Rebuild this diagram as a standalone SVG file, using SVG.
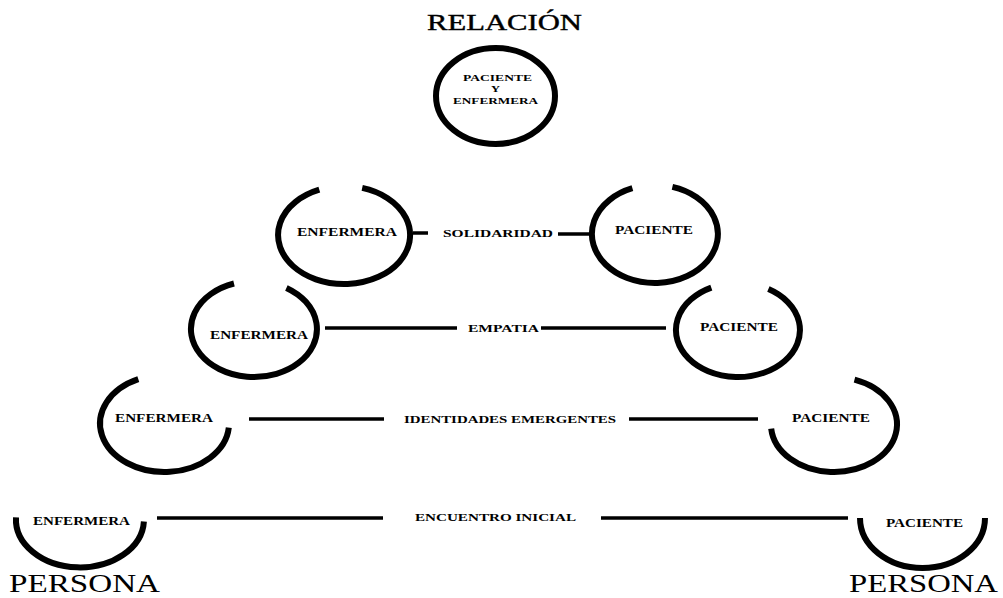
<svg xmlns="http://www.w3.org/2000/svg" width="1003" height="598" viewBox="0 0 1003 598">
<style>
.ring{fill:none;stroke:#000;stroke-width:6;stroke-linecap:butt}
.conn{stroke:#000;stroke-width:3.5;fill:none}
.lbl{font-family:"Liberation Serif","Times New Roman",serif;font-weight:bold;font-size:12px;fill:#000}
.mid{font-family:"Liberation Serif","Times New Roman",serif;font-weight:bold;font-size:11px;fill:#000}
.tiny{font-family:"Liberation Serif","Times New Roman",serif;font-weight:bold;font-size:9px;fill:#000}
.big{font-family:"Liberation Serif","Times New Roman",serif;font-size:23px;fill:#000;stroke:#000;stroke-width:0.4}
.per{font-family:"Liberation Serif","Times New Roman",serif;font-size:26px;fill:#000}
</style>
<rect width="1003" height="598" fill="#fff"/>
<text class="big" x="427" y="30" textLength="155" lengthAdjust="spacingAndGlyphs">RELACIÓN</text>
<text class="per" x="9" y="592" textLength="151" lengthAdjust="spacingAndGlyphs">PERSONA</text>
<text class="per" x="849" y="592" textLength="149" lengthAdjust="spacingAndGlyphs">PERSONA</text>

<g id="connectors">
<line class="conn" x1="413" y1="233" x2="428" y2="233"/>
<line class="conn" x1="558" y1="234" x2="590" y2="234"/>
<text class="mid" x="443" y="237" textLength="110" lengthAdjust="spacingAndGlyphs">SOLIDARIDAD</text>
<line class="conn" x1="325" y1="328" x2="457" y2="328"/>
<line class="conn" x1="541" y1="328" x2="666" y2="328"/>
<text class="mid" x="468" y="332" textLength="71" lengthAdjust="spacingAndGlyphs">EMPATIA</text>
<line class="conn" x1="249" y1="419" x2="384" y2="419"/>
<line class="conn" x1="629" y1="419" x2="758" y2="419"/>
<text class="mid" x="404" y="423" textLength="212" lengthAdjust="spacingAndGlyphs">IDENTIDADES EMERGENTES</text>
<line class="conn" x1="157" y1="518" x2="383" y2="518"/>
<line class="conn" x1="601" y1="518" x2="848" y2="518"/>
<text class="mid" x="415" y="521" textLength="161" lengthAdjust="spacingAndGlyphs">ENCUENTRO INICIAL</text>
</g>

<g id="relacion">
<ellipse class="ring" cx="495.5" cy="96" rx="59.5" ry="48"/>
<text class="tiny" x="463" y="81" textLength="69" lengthAdjust="spacingAndGlyphs">PACIENTE</text>
<text class="tiny" x="491" y="92" textLength="9" lengthAdjust="spacingAndGlyphs">Y</text>
<text class="tiny" x="453" y="104" textLength="85" lengthAdjust="spacingAndGlyphs">ENFERMERA</text>
</g>

<g id="enfermera-solidaridad">
<path class="ring" d="M362.2,187.9 A66,49 0 1 1 319.3,189.6"/>
<text class="lbl" x="297" y="236" textLength="100" lengthAdjust="spacingAndGlyphs">ENFERMERA</text>
</g>
<g id="paciente-solidaridad">
<path class="ring" d="M672.4,186.9 A63,49 0 1 1 632.4,188.2"/>
<text class="lbl" x="615" y="234" textLength="78" lengthAdjust="spacingAndGlyphs">PACIENTE</text>
</g>

<g id="enfermera-empatia">
<path class="ring" d="M286.4,287.9 A63,48 0 1 1 234,283.5"/>
<text class="lbl" x="210" y="339" textLength="98" lengthAdjust="spacingAndGlyphs">ENFERMERA</text>
</g>
<g id="paciente-empatia">
<path class="ring" d="M768.4,289.1 A62,47 0 1 1 711.3,287.6"/>
<text class="lbl" x="700" y="331" textLength="78" lengthAdjust="spacingAndGlyphs">PACIENTE</text>
</g>

<g id="enfermera-identidades">
<path class="ring" d="M228.8,427.7 A64.5,48.5 0 1 1 138.3,379.2"/>
<text class="lbl" x="115" y="422" textLength="98" lengthAdjust="spacingAndGlyphs">ENFERMERA</text>
</g>
<g id="paciente-identidades">
<path class="ring" d="M854.5,379.6 A63,47.5 0 1 1 771.2,428.6"/>
<text class="lbl" x="792" y="422" textLength="78" lengthAdjust="spacingAndGlyphs">PACIENTE</text>
</g>

<g id="enfermera-encuentro">
<path class="ring" d="M143.9,521.5 A64,48 0 0 1 16,517.3"/>
<text class="lbl" x="33" y="525" textLength="97" lengthAdjust="spacingAndGlyphs">ENFERMERA</text>
</g>
<g id="paciente-encuentro">
<path class="ring" d="M985,518 A62.5,50 0 0 1 860,518"/>
<text class="lbl" x="886" y="527" textLength="77" lengthAdjust="spacingAndGlyphs">PACIENTE</text>
</g>
</svg>
